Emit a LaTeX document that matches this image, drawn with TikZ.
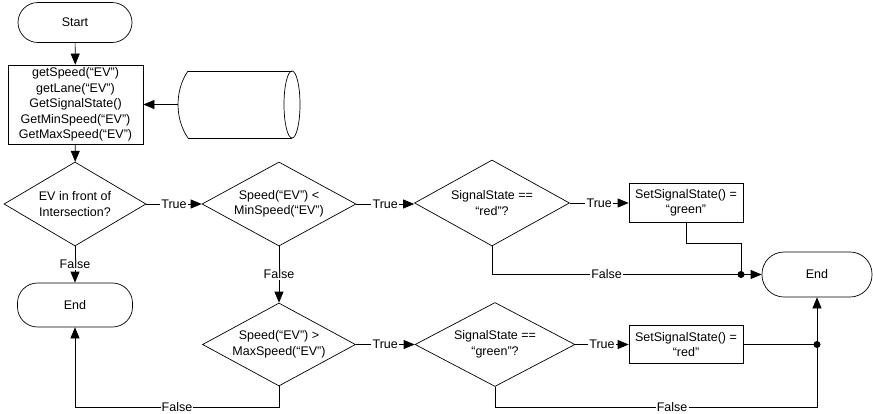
\documentclass[tikz,border=0pt]{standalone}
\usepackage{fontspec}
\setmainfont{Liberation Sans}
\usetikzlibrary{shapes.geometric,arrows.meta}
\begin{document}
\begin{tikzpicture}[x=1pt,y=-1pt,
  font=\fontsize{12.5}{15.5}\selectfont,
  every node/.style={text=black},
  line/.style={draw=black,line width=0.7pt},
  arr/.style={line,-{Triangle[length=11pt,width=9pt]}},
  term/.style={draw,line width=0.7pt,rectangle,rounded corners=20pt,align=center,inner sep=0pt},
  proc/.style={draw,line width=0.7pt,rectangle,align=center,inner sep=1pt},
  dec/.style={draw,line width=0.7pt,diamond,align=center,inner sep=-8pt},
  lbl/.style={fill=white,inner sep=1.2pt},
  dot/.style={circle,fill=black,inner sep=0pt,minimum size=7pt}]
\useasboundingbox (0,0) rectangle (873,413);
% nodes
\node[term,minimum width=114pt,minimum height=40pt] (start) at (75,22.5) {Start};
\node[proc,minimum width=135pt,minimum height=79pt] (proc) at (75.5,104.5)
  {getSpeed(“EV”)\\getLane(“EV”)\\GetSignalState()\\GetMinSpeed(“EV”)\\GetMaxSpeed(“EV”)};
% data store (cylinder) drawn directly
\node[inner sep=0pt,minimum width=122pt,minimum height=67pt] (db) at (239,104.5) {};
\draw[line] (188,71) -- (292,71);
\draw[line] (188,138) -- (292,138);
\draw[line] (292,104.5) ellipse [x radius=8, y radius=33.5];
\draw[line] (188,71) .. controls (174.7,90) and (174.7,119) .. (188,138);
\coordinate (dbw) at (178,104.5);
\node[dec,aspect=1.69,minimum width=142pt,minimum height=84pt] (d1) at (75,204) {EV in front of\\Intersection?};
\node[dec,aspect=1.83,minimum width=154pt,minimum height=84pt] (d2) at (279,204) {Speed(“EV”) <\\MinSpeed(“EV”)};
\node[term,minimum width=115pt,minimum height=44pt] (end1) at (75,305) {End};
\node[dec,aspect=1.84,minimum width=153pt,minimum height=83pt] (d3) at (279,344.5) {Speed(“EV”) >\\MaxSpeed(“EV”)};
\node[dec,aspect=1.8,minimum width=155pt,minimum height=86pt] (d4) at (492,203) {SignalState ==\\“red”?};
\node[proc,minimum width=114pt,minimum height=39pt] (set1) at (686,203) {SetSignalState() =\\“green”};
\node[term,minimum width=110pt,minimum height=45pt,rounded corners=22pt] (end2) at (817,274.5) {End};
\node[dec,aspect=1.9,minimum width=160pt,minimum height=84pt] (d5) at (495,344.5) {SignalState ==\\“green”?};
\node[proc,minimum width=114pt,minimum height=38pt] (set2) at (686,344.5) {SetSignalState() =\\“red”};
\coordinate (j1) at (741,274.5);
\coordinate (j2) at (817,344.5);
\coordinate (b3) at (279,407);
\coordinate (b1) at (75,407);
\coordinate (b5) at (495,407);
\coordinate (b6) at (817,407);
\coordinate (c4) at (492,274.5);
\coordinate (s1) at (686,243);
\coordinate (s2) at (741,243);
% connectors
\draw[arr] (start) -- (proc);
\draw[arr] (dbw) -- (proc.east);
\draw[arr] (proc) -- (d1);
\draw[arr] (d1.east) -- node[lbl]{True} (d2.west);
\draw[arr] (d1.south) -- node[lbl]{False} (end1.north);
\draw[arr] (d2.east) -- node[lbl]{True} (d2.east -| d4.west);
\draw[arr] (d2.south) -- node[lbl]{False} (d3.north);
\draw[arr] (d3.east) -- node[lbl]{True} (d5.west);
\draw[arr] (d3.south) -- (b3) -- node[lbl,pos=0.5]{False} (b1) -- (end1.south);
\draw[arr] (d4.east) -- node[lbl]{True} (set1.west);
\draw[arr] (d5.east) -- node[lbl]{True} (set2.west);
\draw[line] (set1.south) -- (s1) -- (s2) -- (j1);
\draw[line] (d4.south) -- (c4) -- node[lbl,pos=0.46]{False} (j1);
\draw[arr] (j1) -- (end2.west);
\draw[line] (set2.east) -- (j2);
\draw[line] (d5.south) -- (b5) -- node[lbl,pos=0.55]{False} (b6) -- (j2);
\draw[arr] (j2) -- (end2.south);
\node[dot] (dot1) at (j1) {};
\node[dot] (dot2) at (j2) {};
\end{tikzpicture}
\end{document}
